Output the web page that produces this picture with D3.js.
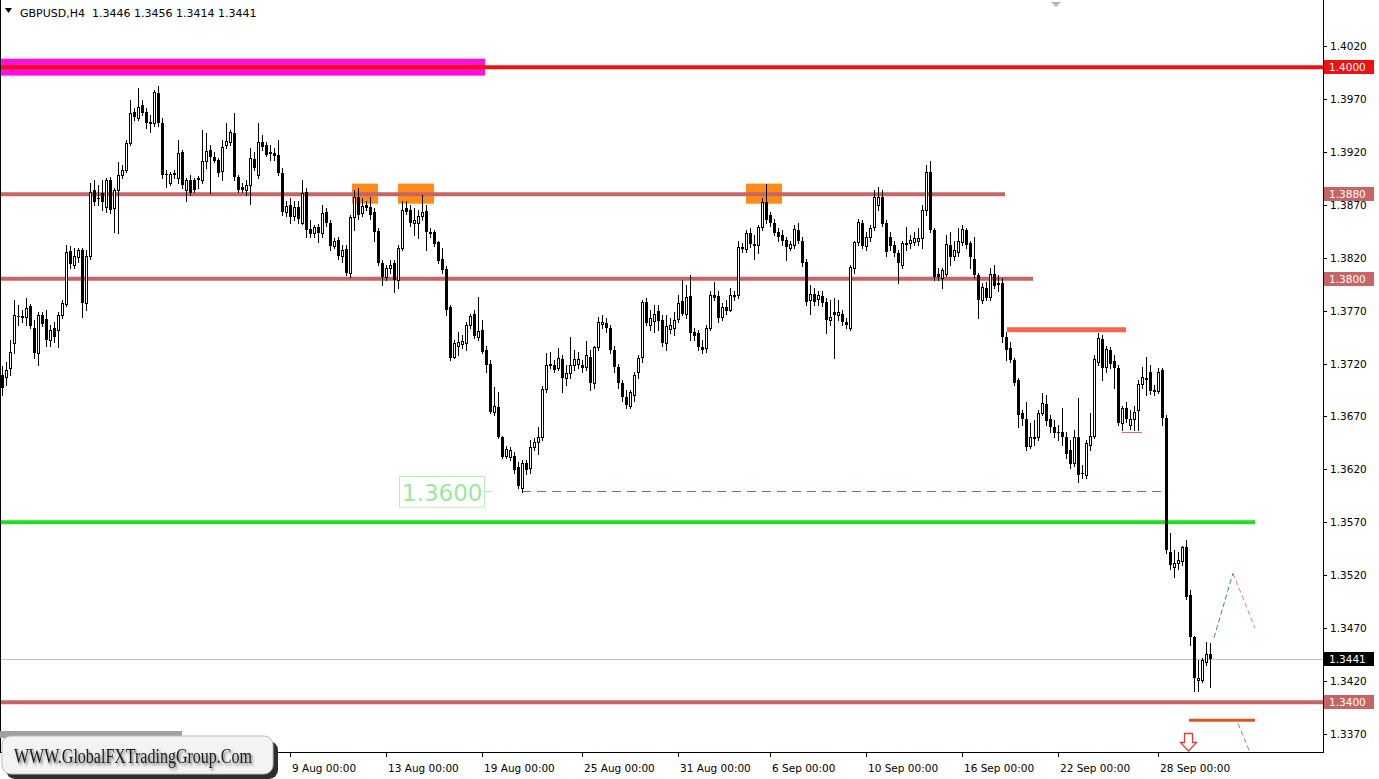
<!DOCTYPE html>
<html><head><meta charset="utf-8">
<script src="https://cdn.jsdelivr.net/npm/d3@7"></script>
<style>
html,body{margin:0;padding:0;background:#fff;}
svg{display:block;}
text{font-family:"DejaVu Sans",Verdana,sans-serif;}
</style></head><body>
<svg id="chart" width="1379" height="779"></svg>
<script>
const symbol = "GBPUSD,H4";
const open = [
1.3709,1.3707,1.3716,1.3739,1.3765,1.3764,1.3764,1.3774,1.3754,1.3730,
1.3766,1.3762,1.3742,1.3754,1.3752,1.3766,1.3776,1.3826,1.3813,1.3821,
1.3827,1.3777,1.3822,1.3884,1.3876,1.3881,1.3868,1.3893,1.3867,1.3884,
1.3898,1.3903,1.3928,1.3958,1.3952,1.3964,1.3958,1.3947,1.3947,1.3976,
1.3947,1.3899,1.3891,1.3900,1.3895,1.3920,1.3884,1.3893,1.3893,1.3894,
1.3893,1.3911,1.3922,1.3915,1.3912,1.3902,1.3926,1.3929,1.3938,1.3896,
1.3887,1.3884,1.3889,1.3913,1.3898,1.3929,1.3926,1.3919,1.3919,1.3917,
1.3900,1.3863,1.3870,1.3859,1.3868,1.3853,1.3882,1.3847,1.3843,1.3849,
1.3843,1.3863,1.3853,1.3831,1.3837,1.3822,1.3828,1.3806,1.3858,1.3877,
1.3862,1.3870,1.3868,1.3863,1.3845,1.3815,1.3802,1.3810,1.3815,1.3799,
1.3829,1.3867,1.3865,1.3853,1.3853,1.3859,1.3864,1.3844,1.3844,1.3835,
1.3819,1.3809,1.3773,1.3726,1.3737,1.3738,1.3739,1.3756,1.3767,1.3745,
1.3752,1.3733,1.3720,1.3674,1.3679,1.3651,1.3633,1.3632,1.3633,1.3622,
1.3602,1.3626,1.3621,1.3641,1.3646,1.3651,1.3696,1.3719,1.3719,1.3716,
1.3724,1.3706,1.3711,1.3719,1.3720,1.3719,1.3717,1.3726,1.3702,1.3736,
1.3757,1.3758,1.3754,1.3733,1.3717,1.3702,1.3688,1.3680,1.3690,1.3712,
1.3726,1.3778,1.3756,1.3760,1.3770,1.3761,1.3739,1.3753,1.3754,1.3762,
1.3779,1.3767,1.3784,1.3750,1.3749,1.3736,1.3735,1.3754,1.3785,1.3784,
1.3764,1.3773,1.3771,1.3784,1.3785,1.3830,1.3828,1.3843,1.3833,1.3832,
1.3849,1.3873,1.3860,1.3853,1.3844,1.3841,1.3837,1.3829,1.3832,1.3846,
1.3836,1.3816,1.3780,1.3786,1.3781,1.3784,1.3778,1.3761,1.3769,1.3766,
1.3767,1.3759,1.3754,1.3810,1.3835,1.3853,1.3831,1.3840,1.3849,1.3870,
1.3877,1.3853,1.3840,1.3832,1.3824,1.3813,1.3833,1.3834,1.3835,1.3836,
1.3839,1.3865,1.3901,1.3846,1.3805,1.3801,1.3805,1.3832,1.3822,1.3825,
1.3835,1.3846,1.3834,1.3819,1.3804,1.3780,1.3791,1.3783,1.3805,1.3795,
1.3796,1.3745,1.3735,1.3723,1.3704,1.3673,1.3668,1.3642,1.3650,1.3651,
1.3673,1.3682,1.3668,1.3660,1.3655,1.3655,1.3651,1.3638,1.3626,1.3651,
1.3617,1.3615,1.3643,1.3652,1.3721,1.3743,1.3717,1.3733,1.3722,1.3716,
1.3664,1.3678,1.3662,1.3668,1.3676,1.3701,1.3706,1.3712,1.3695,1.3694,
1.3714,1.3669,1.3542,1.3528,1.3532,1.3533,1.3547,1.3501,1.3462,1.3421,
1.3421,1.3438,1.3446];
const high = [
1.3718,1.3721,1.3742,1.3780,1.3775,1.3771,1.3782,1.3776,1.3761,1.3769,
1.3769,1.3771,1.3756,1.3759,1.3769,1.3780,1.3832,1.3831,1.3829,1.3829,
1.3829,1.3827,1.3891,1.3893,1.3889,1.3893,1.3895,1.3896,1.3886,1.3910,
1.3908,1.3931,1.3969,1.3961,1.3980,1.3969,1.3961,1.3955,1.3978,1.3982,
1.3952,1.3903,1.3901,1.3903,1.3931,1.3922,1.3895,1.3898,1.3895,1.3897,
1.3941,1.3938,1.3926,1.3920,1.3914,1.3931,1.3947,1.3941,1.3957,1.3898,
1.3891,1.3893,1.3924,1.3920,1.3947,1.3936,1.3929,1.3926,1.3924,1.3931,
1.3905,1.3874,1.3876,1.3874,1.3874,1.3893,1.3886,1.3856,1.3851,1.3852,
1.3870,1.3867,1.3856,1.3839,1.3840,1.3832,1.3832,1.3860,1.3884,1.3886,
1.3876,1.3874,1.3877,1.3867,1.3848,1.3818,1.3813,1.3818,1.3818,1.3832,
1.3874,1.3874,1.3870,1.3867,1.3865,1.3879,1.3870,1.3848,1.3846,1.3836,
1.3829,1.3812,1.3775,1.3742,1.3750,1.3747,1.3759,1.3767,1.3771,1.3783,
1.3761,1.3737,1.3723,1.3698,1.3693,1.3652,1.3642,1.3641,1.3636,1.3627,
1.3629,1.3629,1.3648,1.3650,1.3660,1.3699,1.3730,1.3731,1.3723,1.3735,
1.3728,1.3719,1.3745,1.3733,1.3731,1.3723,1.3741,1.3733,1.3737,1.3764,
1.3766,1.3763,1.3756,1.3737,1.3720,1.3704,1.3695,1.3695,1.3712,1.3728,
1.3780,1.3782,1.3771,1.3775,1.3775,1.3766,1.3766,1.3763,1.3769,1.3785,
1.3799,1.3794,1.3804,1.3754,1.3752,1.3742,1.3756,1.3789,1.3797,1.3789,
1.3777,1.3780,1.3791,1.3789,1.3836,1.3834,1.3846,1.3848,1.3841,1.3851,
1.3876,1.3890,1.3863,1.3857,1.3848,1.3846,1.3840,1.3836,1.3851,1.3853,
1.3840,1.3819,1.3794,1.3791,1.3789,1.3789,1.3782,1.3780,1.3782,1.3780,
1.3771,1.3763,1.3813,1.3836,1.3857,1.3856,1.3844,1.3851,1.3884,1.3887,
1.3884,1.3856,1.3844,1.3836,1.3827,1.3836,1.3849,1.3841,1.3844,1.3848,
1.3870,1.3908,1.3911,1.3848,1.3810,1.3810,1.3841,1.3844,1.3836,1.3848,
1.3851,1.3848,1.3836,1.3840,1.3806,1.3796,1.3797,1.3810,1.3813,1.3804,
1.3801,1.3750,1.3740,1.3725,1.3706,1.3676,1.3684,1.3664,1.3667,1.3676,
1.3692,1.3690,1.3671,1.3667,1.3662,1.3678,1.3655,1.3648,1.3657,1.3687,
1.3624,1.3648,1.3673,1.3728,1.3749,1.3747,1.3737,1.3736,1.3728,1.3719,
1.3680,1.3684,1.3676,1.3680,1.3704,1.3717,1.3726,1.3719,1.3700,1.3716,
1.3716,1.3671,1.3560,1.3544,1.3542,1.3548,1.3553,1.3506,1.3463,1.3440,
1.3442,1.3457,1.3456];
const low = [
1.3690,1.3700,1.3709,1.3730,1.3756,1.3759,1.3756,1.3754,1.3725,1.3719,
1.3755,1.3737,1.3737,1.3740,1.3736,1.3763,1.3774,1.3810,1.3810,1.3816,
1.3764,1.3771,1.3819,1.3870,1.3870,1.3865,1.3863,1.3862,1.3844,1.3843,
1.3895,1.3901,1.3926,1.3950,1.3950,1.3955,1.3943,1.3939,1.3944,1.3944,
1.3895,1.3887,1.3889,1.3895,1.3891,1.3886,1.3874,1.3879,1.3882,1.3886,
1.3891,1.3905,1.3881,1.3910,1.3897,1.3893,1.3924,1.3926,1.3893,1.3882,
1.3882,1.3879,1.3871,1.3903,1.3895,1.3922,1.3916,1.3912,1.3912,1.3898,
1.3860,1.3859,1.3853,1.3856,1.3853,1.3852,1.3840,1.3840,1.3840,1.3835,
1.3840,1.3850,1.3827,1.3829,1.3819,1.3816,1.3804,1.3802,1.3846,1.3857,
1.3859,1.3865,1.3857,1.3836,1.3813,1.3794,1.3799,1.3806,1.3788,1.3791,
1.3827,1.3861,1.3850,1.3841,1.3839,1.3856,1.3827,1.3840,1.3831,1.3815,
1.3806,1.3766,1.3723,1.3725,1.3728,1.3735,1.3733,1.3754,1.3744,1.3742,
1.3730,1.3712,1.3673,1.3671,1.3650,1.3631,1.3631,1.3629,1.3617,1.3602,
1.3599,1.3616,1.3617,1.3638,1.3635,1.3648,1.3693,1.3716,1.3712,1.3714,
1.3693,1.3700,1.3706,1.3714,1.3716,1.3712,1.3714,1.3695,1.3697,1.3733,
1.3754,1.3750,1.3730,1.3712,1.3697,1.3685,1.3678,1.3678,1.3685,1.3706,
1.3721,1.3756,1.3752,1.3750,1.3752,1.3737,1.3733,1.3749,1.3747,1.3759,
1.3766,1.3763,1.3742,1.3742,1.3733,1.3730,1.3731,1.3752,1.3780,1.3759,
1.3761,1.3767,1.3770,1.3780,1.3782,1.3825,1.3825,1.3830,1.3819,1.3824,
1.3846,1.3853,1.3850,1.3841,1.3836,1.3832,1.3818,1.3827,1.3829,1.3834,
1.3812,1.3775,1.3767,1.3775,1.3775,1.3774,1.3749,1.3756,1.3725,1.3761,
1.3756,1.3754,1.3752,1.3806,1.3832,1.3829,1.3827,1.3836,1.3846,1.3865,
1.3850,1.3822,1.3827,1.3822,1.3796,1.3810,1.3827,1.3829,1.3832,1.3832,
1.3829,1.3860,1.3844,1.3799,1.3799,1.3791,1.3803,1.3813,1.3818,1.3822,
1.3832,1.3829,1.3810,1.3801,1.3763,1.3777,1.3780,1.3780,1.3791,1.3789,
1.3740,1.3723,1.3721,1.3700,1.3660,1.3662,1.3638,1.3640,1.3643,1.3648,
1.3671,1.3662,1.3655,1.3651,1.3648,1.3643,1.3631,1.3621,1.3623,1.3608,
1.3612,1.3612,1.3638,1.3650,1.3719,1.3704,1.3712,1.3716,1.3697,1.3662,
1.3657,1.3665,1.3658,1.3657,1.3657,1.3697,1.3690,1.3691,1.3690,1.3692,
1.3662,1.3541,1.3526,1.3518,1.3526,1.3530,1.3498,1.3454,1.3411,1.3411,
1.3419,1.3435,1.3414];
const close = [
1.3697,1.3714,1.3731,1.3766,1.3764,1.3765,1.3772,1.3755,1.3730,1.3766,
1.3757,1.3742,1.3752,1.3745,1.3766,1.3777,1.3825,1.3814,1.3822,1.3827,
1.3777,1.3822,1.3882,1.3873,1.3875,1.3873,1.3893,1.3865,1.3884,1.3898,
1.3903,1.3928,1.3957,1.3953,1.3962,1.3957,1.3947,1.3948,1.3977,1.3947,
1.3898,1.3898,1.3899,1.3898,1.3919,1.3889,1.3893,1.3881,1.3884,1.3895,
1.3911,1.3921,1.3915,1.3911,1.3900,1.3925,1.3930,1.3939,1.3896,1.3884,
1.3884,1.3889,1.3914,1.3905,1.3929,1.3925,1.3917,1.3920,1.3916,1.3900,
1.3863,1.3869,1.3858,1.3868,1.3857,1.3881,1.3846,1.3842,1.3849,1.3843,
1.3862,1.3853,1.3831,1.3836,1.3822,1.3827,1.3806,1.3858,1.3877,1.3860,
1.3869,1.3867,1.3860,1.3844,1.3815,1.3802,1.3810,1.3813,1.3799,1.3829,
1.3865,1.3863,1.3853,1.3856,1.3859,1.3863,1.3844,1.3842,1.3833,1.3817,
1.3808,1.3771,1.3725,1.3739,1.3740,1.3741,1.3756,1.3765,1.3746,1.3751,
1.3731,1.3719,1.3674,1.3680,1.3651,1.3632,1.3639,1.3638,1.3619,1.3604,
1.3626,1.3619,1.3641,1.3646,1.3651,1.3696,1.3719,1.3720,1.3714,1.3725,
1.3706,1.3711,1.3719,1.3724,1.3724,1.3716,1.3728,1.3702,1.3736,1.3759,
1.3759,1.3754,1.3733,1.3717,1.3702,1.3688,1.3681,1.3693,1.3709,1.3725,
1.3778,1.3758,1.3763,1.3767,1.3760,1.3739,1.3755,1.3756,1.3761,1.3777,
1.3767,1.3783,1.3749,1.3746,1.3736,1.3733,1.3754,1.3785,1.3782,1.3763,
1.3773,1.3770,1.3785,1.3785,1.3830,1.3828,1.3843,1.3833,1.3831,1.3849,
1.3873,1.3856,1.3853,1.3843,1.3840,1.3836,1.3830,1.3833,1.3847,1.3836,
1.3815,1.3778,1.3786,1.3778,1.3785,1.3777,1.3761,1.3764,1.3766,1.3769,
1.3759,1.3756,1.3811,1.3835,1.3854,1.3831,1.3840,1.3848,1.3877,1.3877,
1.3852,1.3825,1.3831,1.3824,1.3815,1.3834,1.3834,1.3837,1.3839,1.3839,
1.3865,1.3901,1.3846,1.3802,1.3802,1.3808,1.3833,1.3821,1.3827,1.3836,
1.3847,1.3832,1.3821,1.3804,1.3780,1.3792,1.3782,1.3805,1.3793,1.3796,
1.3745,1.3733,1.3723,1.3702,1.3671,1.3668,1.3641,1.3651,1.3651,1.3673,
1.3683,1.3666,1.3660,1.3654,1.3654,1.3651,1.3635,1.3625,1.3651,1.3615,
1.3616,1.3645,1.3652,1.3724,1.3744,1.3716,1.3734,1.3720,1.3716,1.3664,
1.3678,1.3668,1.3668,1.3674,1.3701,1.3707,1.3704,1.3694,1.3693,1.3712,
1.3669,1.3544,1.3530,1.3532,1.3534,1.3547,1.3499,1.3462,1.3423,1.3423,
1.3440,1.3446,1.3441];

const yTicks = [1.4020,1.3970,1.3920,1.3870,1.3820,1.3770,1.3720,1.3670,1.3620,1.3570,1.3520,1.3470,1.3420,1.3370];
const xTickLabels = ["9 Aug 00:00","13 Aug 00:00","19 Aug 00:00","25 Aug 00:00","31 Aug 00:00","6 Sep 00:00","10 Sep 00:00","16 Sep 00:00","22 Sep 00:00","28 Sep 00:00"];
const xTickIndex = [72,96,120,145,169,192,216,240,264,289];

// horizontal levels (price, bar index where the line ends)
const levelPrices = [1.4000, 1.3880, 1.3800, 1.3400];
const levelEnds = [331, 250.75, 257.75, 331];
const greenLevel = 1.3570, greenEnd = 313.25;
const dashLevel = 1.3600, dashStart = 130, dashEnd = 290.25;
const zoneTop = 1.4008, zoneBottom = 1.3992, zoneEnd = 120.75;
const boxTop = 1.3890, boxBottom = 1.3871;
const boxStarts = [87.5, 99, 186], boxEnds = [94, 108, 195];
const resistPrice = 1.3752, resistRange = [251.25, 281];
const minorPrice = 1.3655, minorRange = [280, 285];
const supportPrice = 1.3383, supportRange = [296.75, 313.25];
const fcUp = [[303, 1.3461],[307.75, 1.3522]];
const fcDown = [[307.75, 1.3522],[313.25, 1.3470]];
const fcDown2 = [[309, 1.3380],[312.5, 1.3348]];
const arrowIdx = 296.75, arrowPrice = 1.3371;
const textIdx = [99.25, 120.5], textPrices = [1.3614, 1.3585];
const watermark = "WWW.GlobalFXTradingGroup.Com";

const W = 1379, H = 779, plotRight = 1323, plotBottom = 752;
const x = d3.scaleLinear().domain([-0.5, 330.25]).range([0, plotRight]);
const y = d3.scaleLinear().domain([1.3370, 1.4020]).range([734, 46]);

const svg = d3.select("#chart");
const defs = svg.append("defs");
defs.append("clipPath").attr("id","clip").append("rect")
  .attr("x",1).attr("y",0).attr("width",plotRight-1).attr("height",plotBottom);
const f = defs.append("filter").attr("id","shadow").attr("x","-10%").attr("y","-30%").attr("width","130%").attr("height","170%");
f.append("feDropShadow").attr("dx",2).attr("dy",2).attr("stdDeviation",1.4).attr("flood-color","#444").attr("flood-opacity",0.8);

svg.append("rect").attr("width",W).attr("height",H).attr("fill","#fff");

const plot = svg.append("g").attr("clip-path","url(#clip)");

// magenta zone
plot.append("rect").attr("x",x(-1)).attr("y",y(zoneTop))
  .attr("width",x(zoneEnd)-x(-1)).attr("height",y(zoneBottom)-y(zoneTop)).attr("fill","#ff10e0");
// orange boxes
plot.selectAll("rect.box").data(boxStarts).join("rect").attr("class","box")
  .attr("x",d=>x(d)).attr("y",y(boxTop))
  .attr("width",(d,i)=>x(boxEnds[i])-x(d)).attr("height",y(boxBottom)-y(boxTop))
  .attr("fill","#ff8c1a");

// current price line
const lastY = Math.round(y(close[close.length-1]))+0.5;
plot.append("line").attr("x1",0).attr("x2",plotRight)
  .attr("y1",lastY).attr("y2",lastY)
  .attr("stroke","#c0c0c0").attr("stroke-width",1);

// level lines
const levelColors = ["#ee1111","#c86464","#c86464","#c86464"];
plot.selectAll("line.level").data(levelPrices).join("line").attr("class","level")
  .attr("x1",0).attr("x2",(d,i)=>x(levelEnds[i]))
  .attr("y1",d=>y(d)).attr("y2",d=>y(d))
  .attr("stroke",(d,i)=>levelColors[i]).attr("stroke-width",4);

// green level
plot.append("line").attr("x1",0).attr("x2",x(greenEnd))
  .attr("y1",y(greenLevel)).attr("y2",y(greenLevel)).attr("stroke","#22dd22").attr("stroke-width",4);
// dashed 1.3600
plot.append("line").attr("x1",x(dashStart)).attr("x2",x(dashEnd))
  .attr("y1",Math.round(y(dashLevel))+0.5).attr("y2",Math.round(y(dashLevel))+0.5)
  .attr("stroke","#6a6ac8").attr("stroke-width",1).attr("stroke-dasharray","9,6");
// text box 1.3600
plot.append("rect").attr("x",Math.round(x(textIdx[0]))+0.5).attr("y",Math.round(y(textPrices[0]))+0.5)
  .attr("width",x(textIdx[1])-x(textIdx[0])).attr("height",y(textPrices[1])-y(textPrices[0]))
  .attr("fill","none").attr("stroke","#b8f0b8").attr("stroke-width",1);
plot.append("line").attr("x1",x(textIdx[1])).attr("x2",x(textIdx[1])+9)
  .attr("y1",Math.round(y(dashLevel))+0.5).attr("y2",Math.round(y(dashLevel))+0.5).attr("stroke","#b8f0b8");
plot.append("text").attr("x",x(textIdx[0])+3).attr("y",y(textPrices[1])-5)
  .attr("font-size",23).attr("fill","#9be89b").text(dashLevel.toFixed(4));

// resistance / support segments
plot.append("line").attr("x1",x(resistRange[0])).attr("x2",x(resistRange[1]))
  .attr("y1",y(resistPrice)).attr("y2",y(resistPrice)).attr("stroke","#f46450").attr("stroke-width",5);
plot.append("line").attr("x1",x(minorRange[0])).attr("x2",x(minorRange[1]))
  .attr("y1",Math.round(y(minorPrice))+0.5).attr("y2",Math.round(y(minorPrice))+0.5).attr("stroke","#d86a6a").attr("stroke-width",1);
plot.append("line").attr("x1",x(supportRange[0])).attr("x2",x(supportRange[1]))
  .attr("y1",y(supportPrice)).attr("y2",y(supportPrice)).attr("stroke","#e0541e").attr("stroke-width",3);

// forecast dashed lines
const ln = d3.line().x(d=>x(d[0])).y(d=>y(d[1]));
plot.append("path").attr("d",ln(fcUp)).attr("fill","none").attr("stroke","#3f8a6a").attr("stroke-width",1).attr("stroke-dasharray","5,3");
plot.append("path").attr("d",ln(fcDown)).attr("fill","none").attr("stroke","#e4806c").attr("stroke-width",1).attr("stroke-dasharray","5,3");
plot.append("path").attr("d",ln(fcDown2)).attr("fill","none").attr("stroke","#c46a5a").attr("stroke-width",1).attr("stroke-dasharray","5,3");

// down arrow
const ax = Math.round(x(arrowIdx)), ay = Math.round(y(arrowPrice));
plot.append("path")
  .attr("d",`M${ax-4.5},${ay+0.5} H${ax+3.5} V${ay+9.5} H${ax+7.5} L${ax-0.5},${ay+18} L${ax-8.5},${ay+9.5} H${ax-4.5} Z`)
  .attr("fill","#fff").attr("stroke","#e03c3c").attr("stroke-width",1.3);

// candles
const idx = d3.range(open.length);
const cg = plot.append("g");
cg.selectAll("line.wick").data(idx).join("line").attr("class","wick")
  .attr("x1",i=>Math.round(x(i))+0.5).attr("x2",i=>Math.round(x(i))+0.5)
  .attr("y1",i=>Math.round(y(high[i]))).attr("y2",i=>Math.round(y(low[i]))+1)
  .attr("stroke","#000").attr("stroke-width",1);
cg.selectAll("rect.bear").data(idx.filter(i=>close[i]<open[i])).join("rect").attr("class","bear")
  .attr("x",i=>Math.round(x(i))-1)
  .attr("y",i=>Math.round(y(open[i])))
  .attr("width",3)
  .attr("height",i=>Math.max(1,Math.round(y(close[i]))-Math.round(y(open[i]))))
  .attr("fill","#000");
cg.selectAll("rect.bull").data(idx.filter(i=>close[i]>=open[i])).join("rect").attr("class","bull")
  .attr("x",i=>Math.round(x(i))-0.5)
  .attr("y",i=>Math.round(y(close[i]))+0.5)
  .attr("width",2)
  .attr("height",i=>Math.max(0.01,Math.round(y(open[i]))-Math.round(y(close[i]))))
  .attr("fill","#fff").attr("stroke","#000").attr("stroke-width",1);

// chart shift marker
const sx = Math.round(x(263.5));
svg.append("path").attr("d",`M${sx-5},2 L${sx+5},2 L${sx},7 Z`).attr("fill","#b8b8b8");

// frame
svg.append("line").attr("x1",0.5).attr("x2",0.5).attr("y1",0).attr("y2",plotBottom).attr("stroke","#000");
svg.append("line").attr("x1",plotRight+0.5).attr("x2",plotRight+0.5).attr("y1",0).attr("y2",plotBottom+1).attr("stroke","#000");
svg.append("line").attr("x1",0).attr("x2",plotRight+1).attr("y1",plotBottom+0.5).attr("y2",plotBottom+0.5).attr("stroke","#000");

// right axis
const ra = svg.append("g");
ra.selectAll("line").data(yTicks).join("line")
  .attr("x1",plotRight).attr("x2",plotRight+4)
  .attr("y1",d=>Math.round(y(d))+0.5).attr("y2",d=>Math.round(y(d))+0.5).attr("stroke","#000");
ra.selectAll("text").data(yTicks).join("text")
  .attr("x",plotRight+7).attr("y",d=>Math.round(y(d))+4)
  .attr("font-size",10.5).attr("fill","#000").text(d=>d.toFixed(4));

// price labels on axis
const labPrices = levelPrices.concat([close[close.length-1]]);
const labColors = levelColors.concat(["#000"]);
const lab = svg.append("g");
lab.selectAll("rect").data(labPrices).join("rect")
  .attr("x",plotRight+1).attr("y",d=>Math.round(y(d))-7).attr("width",50).attr("height",14)
  .attr("fill",(d,i)=>labColors[i]);
lab.selectAll("text").data(labPrices).join("text")
  .attr("x",plotRight+6).attr("y",d=>Math.round(y(d))+4)
  .attr("font-size",10.5).attr("fill","#fff").text(d=>d.toFixed(4));

// bottom axis
const ba = svg.append("g");
ba.selectAll("line").data(xTickIndex).join("line")
  .attr("x1",d=>Math.round(x(d))+0.5).attr("x2",d=>Math.round(x(d))+0.5)
  .attr("y1",plotBottom).attr("y2",plotBottom+5).attr("stroke","#000");
ba.selectAll("text").data(xTickIndex).join("text")
  .attr("x",d=>Math.round(x(d))+2).attr("y",772)
  .attr("font-size",10.5).attr("fill","#000").text((d,i)=>xTickLabels[i]);

// header
svg.append("path").attr("d","M5,8 L12,8 L8.5,13 Z").attr("fill","#000");
svg.append("text").attr("x",20).attr("y",17).attr("font-size",11).attr("fill","#000")
  .attr("xml:space","preserve")
  .text(`${symbol}  ${open[open.length-1].toFixed(4)} ${high[high.length-1].toFixed(4)} ${low[low.length-1].toFixed(4)} ${close[close.length-1].toFixed(4)}`);

// watermark
const wm = svg.append("g");
wm.append("rect").attr("x",0).attr("y",731).attr("width",182).attr("height",7).attr("fill","#a0a0a0");
wm.append("rect").attr("x",6).attr("y",741).attr("width",272).attr("height",38).attr("rx",9).attr("fill","#2e2e2e");
wm.append("rect").attr("x",2).attr("y",736).attr("width",271).attr("height",38).attr("rx",9)
  .attr("fill","#f3f3f3").attr("stroke","#bdbdbd");
wm.append("g").attr("transform","translate(14,763) scale(0.8,1)")
  .append("text").attr("x",0).attr("y",0)
  .style("font-family","'Liberation Serif','DejaVu Serif',serif")
  .attr("font-size",20).attr("fill","#1a1a1a")
  .attr("filter","url(#shadow)")
  .text(watermark);
</script>
</body></html>
